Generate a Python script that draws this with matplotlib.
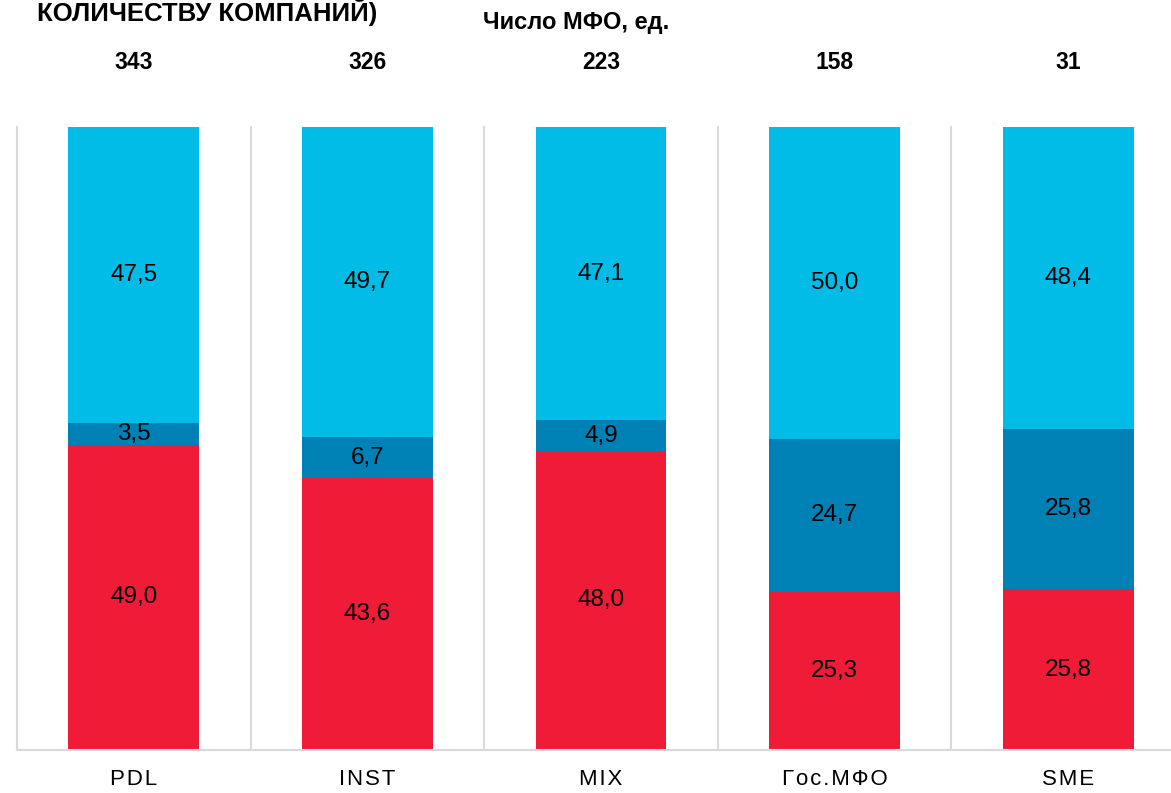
import matplotlib
matplotlib.use('Agg')
from matplotlib import pyplot as plt

plt.rcParams['font.family'] = ['Liberation Sans', 'DejaVu Sans']

categories = ['PDL', 'INST', 'MIX', 'Гос.МФО', 'SME']
counts = [343, 326, 223, 158, 31]
red_share = [49.0, 43.6, 48.0, 25.3, 25.8]
dark_share = [3.5, 6.7, 4.9, 24.7, 25.8]
light_share = [47.5, 49.7, 47.1, 50.0, 48.4]

RED = '#EF1B37'
DARK = '#0081B6'
LIGHT = '#00BCE7'
GRID = '#D9D9D9'

W, H = 1171, 793
fig = plt.figure(figsize=(W / 100, H / 100), dpi=100)
ax = fig.add_axes([17 / W, 43 / H, 5 * 233.6 / W, 623 / H])

x = list(range(len(categories)))
bar_w = 0.56
bottom_dark = red_share
bottom_light = [r + d for r, d in zip(red_share, dark_share)]

ax.bar(x, red_share, width=bar_w, color=RED, edgecolor='none', zorder=2)
ax.bar(x, dark_share, width=bar_w, bottom=bottom_dark, color=DARK, edgecolor='none', zorder=2)
ax.bar(x, light_share, width=bar_w, bottom=bottom_light, color=LIGHT, edgecolor='none', zorder=2)

# value labels centred in each segment
for i in x:
    segs = [(0, red_share[i]), (bottom_dark[i], dark_share[i]), (bottom_light[i], light_share[i])]
    for b, v in segs:
        ax.text(i, b + v / 2, f'{v:.1f}'.replace('.', ','), ha='center', va='center',
                fontsize=17.5, color='black', zorder=3)
    ax.text(i, 110.3, str(counts[i]), ha='center', va='center', fontsize=16.5,
            fontweight='bold', clip_on=False)

# separators between categories
for s in range(len(categories) + 1):
    ax.plot([s - 0.5, s - 0.5], [0, 100], color=GRID, lw=1.5, zorder=1, clip_on=False)

ax.set_xlim(-0.5, len(categories) - 0.5)
ax.set_ylim(0, 100)
ax.set_yticks([])
ax.set_xticks(x, ['\u200a'.join(c) for c in categories])
ax.tick_params(axis='x', length=0, pad=14, labelsize=16)
for side in ['top', 'right', 'left']:
    ax.spines[side].set_visible(False)
ax.spines['bottom'].set_color(GRID)
ax.spines['bottom'].set_linewidth(1.5)

fig.text(576 / W, 1 - 22 / H, 'Число МФО, ед.', ha='center', va='center',
         fontsize=17, fontweight='bold')
fig.text(37 / W, 1 - 21 / H, 'КОЛИЧЕСТВУ КОМПАНИЙ)', ha='left', va='baseline',
         fontsize=18.5, fontweight='bold')

fig.savefig('out.png', dpi=100)
